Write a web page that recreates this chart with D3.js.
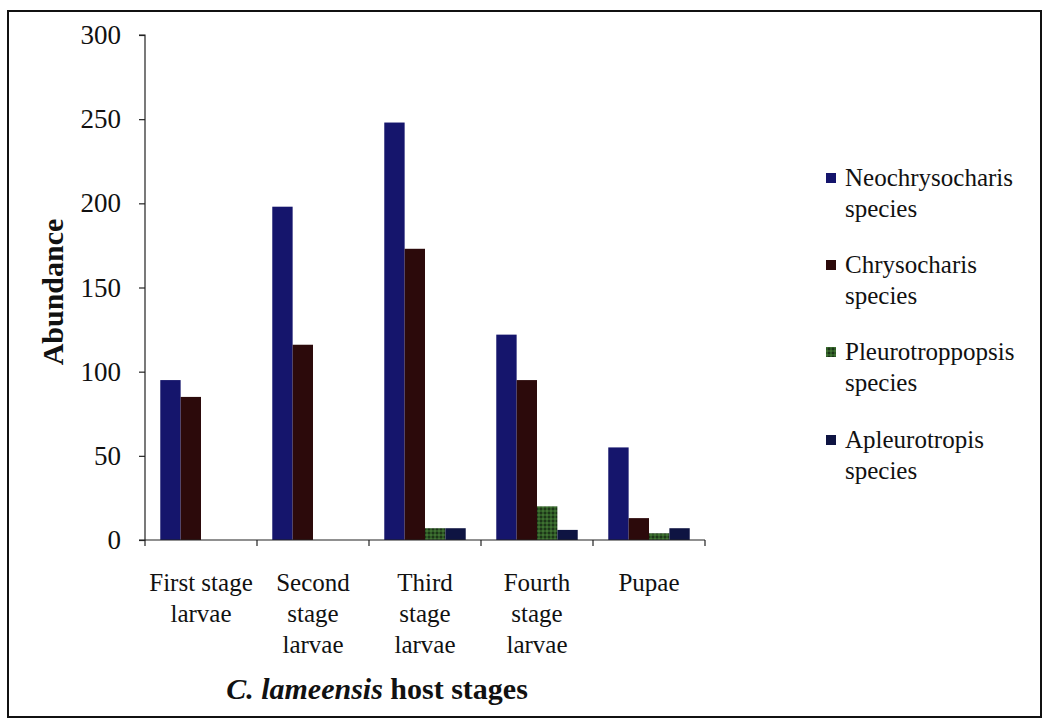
<!DOCTYPE html>
<html>
<head>
<meta charset="utf-8">
<script src="https://cdn.jsdelivr.net/npm/d3@7"></script>
<style>
  html, body { margin: 0; padding: 0; background: #fff; }
  svg { display: block; }
  text { font-family: "Liberation Serif", "Times New Roman", serif; fill: #111; }
</style>
</head>
<body>
<svg id="chart" width="1050" height="725"></svg>
<script>
const categories = [
  ["First stage", "larvae"],
  ["Second", "stage", "larvae"],
  ["Third", "stage", "larvae"],
  ["Fourth", "stage", "larvae"],
  ["Pupae"]
];
const seriesNames = [
  ["Neochrysocharis", "species"],
  ["Chrysocharis", "species"],
  ["Pleurotroppopsis", "species"],
  ["Apleurotropis", "species"]
];
const neochrysocharis = [95, 198, 248, 122, 55];
const chrysocharis = [85, 116, 173, 95, 13];
const pleurotroppopsis = [0, 0, 7, 20, 4];
const apleurotropis = [0, 0, 7, 6, 7];
const yTicks = [0, 50, 100, 150, 200, 250, 300];
const colors = ["#15156c", "#2c0a0b", "#2f5427", "#0e1442"];

const seriesValues = [neochrysocharis, chrysocharis, pleurotroppopsis, apleurotropis];

const svg = d3.select("#chart");

// frame
svg.append("rect").attr("x", 8).attr("y", 11).attr("width", 1033).attr("height", 706)
  .attr("fill", "none").attr("stroke", "#111").attr("stroke-width", 2);

// pattern for Pleurotroppopsis
const defs = svg.append("defs");
const pat = defs.append("pattern").attr("id", "greenpat").attr("patternUnits", "userSpaceOnUse")
  .attr("width", 4).attr("height", 4);
pat.append("rect").attr("width", 4).attr("height", 4).attr("fill", "#2e5a26");
pat.append("rect").attr("x", 0).attr("y", 0).attr("width", 2).attr("height", 2).attr("fill", "#1d3518");
pat.append("rect").attr("x", 2).attr("y", 2).attr("width", 2).attr("height", 2).attr("fill", "#3f7031");
const fills = [colors[0], colors[1], "url(#greenpat)", colors[3]];

const pLeft = 145, pRight = 705, pTop = 35, pBottom = 540;

const x0 = d3.scaleBand().domain(d3.range(categories.length)).range([pLeft, pRight]).padding(0);
const x1 = d3.scaleBand().domain(d3.range(seriesNames.length)).range([0, x0.bandwidth()])
  .paddingInner(0).paddingOuter(0.75);
const y = d3.scaleLinear().domain([0, 300]).range([pBottom, pTop]);

// bars
seriesValues.forEach((vals, si) => {
  svg.append("g").selectAll("rect").data(vals).join("rect")
    .attr("x", (d, i) => x0(i) + x1(si))
    .attr("width", x1.bandwidth())
    .attr("y", d => y(d))
    .attr("height", d => y(0) - y(d))
    .attr("fill", fills[si]);
});

// y axis
const yAxis = d3.axisLeft(y).tickValues(yTicks).tickSize(6).tickPadding(18);
const gy = svg.append("g").attr("transform", `translate(${pLeft},0)`).call(yAxis);
gy.attr("font-family", null).attr("font-size", null);
gy.select(".domain").attr("stroke", "#222").attr("stroke-width", 1.2).attr("d", `M-6,${pTop}H0V${pBottom}H-6`);
gy.selectAll(".tick line").attr("stroke", "#222").attr("stroke-width", 1.2);
gy.selectAll(".tick text").style("font-size", "27px").attr("fill", "#111");

// x axis
const boundaries = d3.range(categories.length + 1).map(i => i < categories.length ? x0(i) : pRight);
const gx = svg.append("g");
gx.append("line").attr("x1", pLeft).attr("x2", pRight).attr("y1", pBottom).attr("y2", pBottom)
  .attr("stroke", "#222").attr("stroke-width", 1.2);
gx.selectAll("line.tk").data(boundaries).join("line").attr("class", "tk")
  .attr("x1", d => d).attr("x2", d => d).attr("y1", pBottom).attr("y2", pBottom + 6)
  .attr("stroke", "#222").attr("stroke-width", 1.2);

// category labels
categories.forEach((lines, i) => {
  const cx = x0(i) + x0.bandwidth() / 2;
  const t = svg.append("text").attr("text-anchor", "middle")
    .attr("x", cx).attr("y", 591)
    .style("font-size", "25px");
  lines.forEach((ln, j) => {
    t.append("tspan").attr("x", cx).attr("dy", j === 0 ? 0 : 31).text(ln);
  });
});

// axis titles
svg.append("text").attr("transform", "translate(63,292) rotate(-90)").attr("text-anchor", "middle")
  .style("font-size", "30px").style("font-weight", "bold").text("Abundance");

const xt = svg.append("text").attr("x", 377).attr("y", 699).attr("text-anchor", "middle")
  .style("font-size", "30px").style("font-weight", "bold");
xt.append("tspan").style("font-style", "italic").text("C. lameensis");
xt.append("tspan").text(" host stages");

// legend
const legY = [186, 273, 360, 448];
seriesNames.forEach((nm, i) => {
  svg.append("rect").attr("x", 826).attr("y", legY[i] - 13).attr("width", 10).attr("height", 10)
    .attr("fill", fills[i]);
  const t = svg.append("text").attr("x", 845).attr("y", legY[i]).style("font-size", "25px");
  nm.forEach((ln, j) => {
    t.append("tspan").attr("x", 845).attr("dy", j === 0 ? 0 : 31).text(ln);
  });
});
</script>
</body>
</html>
